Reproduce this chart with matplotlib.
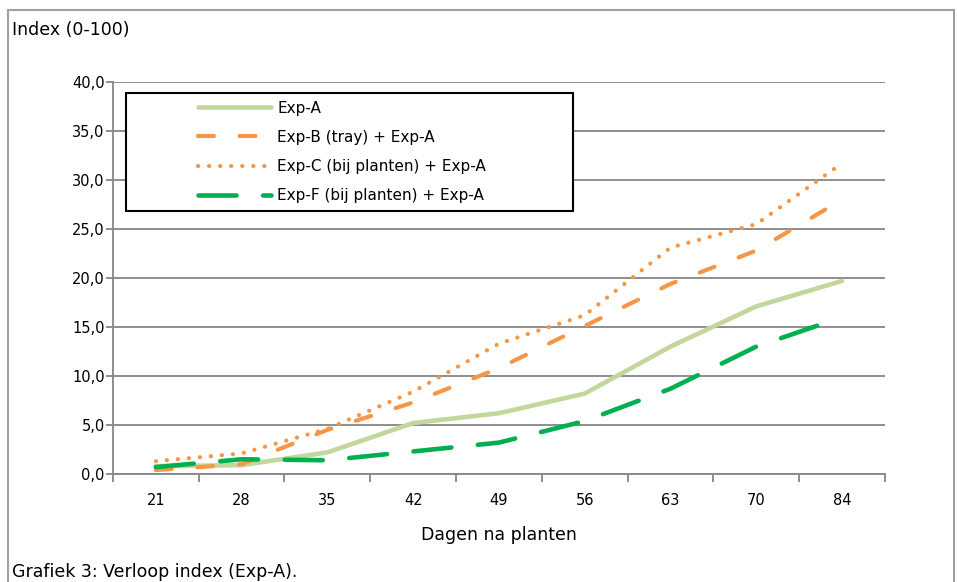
import numpy as np
import matplotlib
matplotlib.use("Agg")
import matplotlib.pyplot as plt
from matplotlib.patches import Rectangle
from matplotlib.legend_handler import HandlerLine2D

plt.rcParams['font.family'] = ['DejaVu Sans']

# Data
dagen = ["21", "28", "35", "42", "49", "56", "63", "70", "84"]
exp_a = [0.8, 0.9, 2.2, 5.2, 6.2, 8.2, 13.0, 17.1, 19.7]
exp_b = [0.4, 1.0, 4.5, 7.3, 10.8, 15.1, 19.4, 22.8, 28.0]
exp_c = [1.3, 2.1, 4.6, 8.4, 13.3, 16.2, 23.1, 25.5, 31.7]
exp_f = [0.7, 1.5, 1.4, 2.3, 3.2, 5.4, 8.7, 13.0, 16.0]
y_ticks = [0, 5, 10, 15, 20, 25, 30, 35, 40]

labels = ["Exp-A", "Exp-B (tray) + Exp-A", "Exp-C (bij planten) + Exp-A",
          "Exp-F (bij planten) + Exp-A"]


class ShiftedLine(HandlerLine2D):
    # legend line only on the right part of the handle box (like Excel)
    def get_xdata(self, legend, xdescent, ydescent, width, height, fontsize):
        x0 = -xdescent + width * 0.47
        xd = np.array([x0, -xdescent + width])
        return xd, xd


fig = plt.figure(figsize=(9.57, 5.82), dpi=100)
ax = fig.add_axes([0.118, 0.1856, 0.8067, 0.6735])

x = np.arange(len(dagen))

ax.plot(x, exp_a, color='#C3D69B', lw=3.3, solid_capstyle='round',
        label=labels[0], zorder=3)
ax.plot(x, exp_b, color='#F79646', lw=3.0, dashes=(3.8, 6.2),
        dash_capstyle='round', label=labels[1], zorder=3)
ax.plot(x, exp_c, color='#F79646', lw=3.0, dashes=(0.05, 2.6),
        dash_capstyle='round', label=labels[2], zorder=3)
ax.plot(x, exp_f, color='#00B050', lw=3.3, dashes=(8.3, 5.8),
        dash_capstyle='round', label=labels[3], zorder=3)

ax.set_xlim(-0.5, len(dagen) - 0.5)
ax.set_ylim(0, 40)

# category axis with tick marks between categories
ax.set_xticks(np.arange(-0.5, len(dagen), 1.0))
ax.set_xticklabels([])
ax.set_xticks(x, minor=True)
ax.set_xticklabels(dagen, minor=True)
ax.tick_params(axis='x', which='major', direction='out', length=6,
               width=1.3, color='#868686')
ax.tick_params(axis='x', which='minor', length=0, pad=14, labelsize=10.5)

ax.set_yticks(y_ticks)
ax.set_yticklabels([f"{v:.1f}".replace('.', ',') for v in y_ticks])
ax.tick_params(axis='y', direction='out', length=5, width=1.3,
               color='#868686', labelsize=10.5, pad=1)

ax.grid(axis='y', color='#868686', lw=1.3)
ax.set_axisbelow(True)
for side in ['top', 'right']:
    ax.spines[side].set_visible(False)
for side in ['left', 'bottom']:
    ax.spines[side].set_color('#868686')
    ax.spines[side].set_linewidth(1.3)

ax.set_xlabel("Dagen na planten", fontsize=12.5, labelpad=13)

leg = ax.legend(loc='upper left', bbox_to_anchor=(0.0168, 0.672, 0.579, 0.30),
                mode='expand', fontsize=11, handlelength=9.0,
                handletextpad=0.4, labelspacing=0.93, borderpad=0.5,
                fancybox=False, framealpha=1, edgecolor='black',
                borderaxespad=0, handler_map={plt.Line2D: ShiftedLine()})
leg.get_frame().set_linewidth(1.5)

fig.text(12 / 957, 1 - 30 / 582, "Index (0-100)", fontsize=12.5,
         ha='left', va='center')
fig.text(12 / 957, 1 - 572 / 582, "Grafiek 3: Verloop index (Exp-A).",
         fontsize=12.5, ha='left', va='center')

# outer chart border
fig.patches.append(Rectangle((8 / 957, -0.05), 946 / 957, 1.05 - 10 / 582,
                             transform=fig.transFigure, fill=False,
                             edgecolor='#A0A0A0', lw=1.5))

fig.savefig("out.png", dpi=100)
